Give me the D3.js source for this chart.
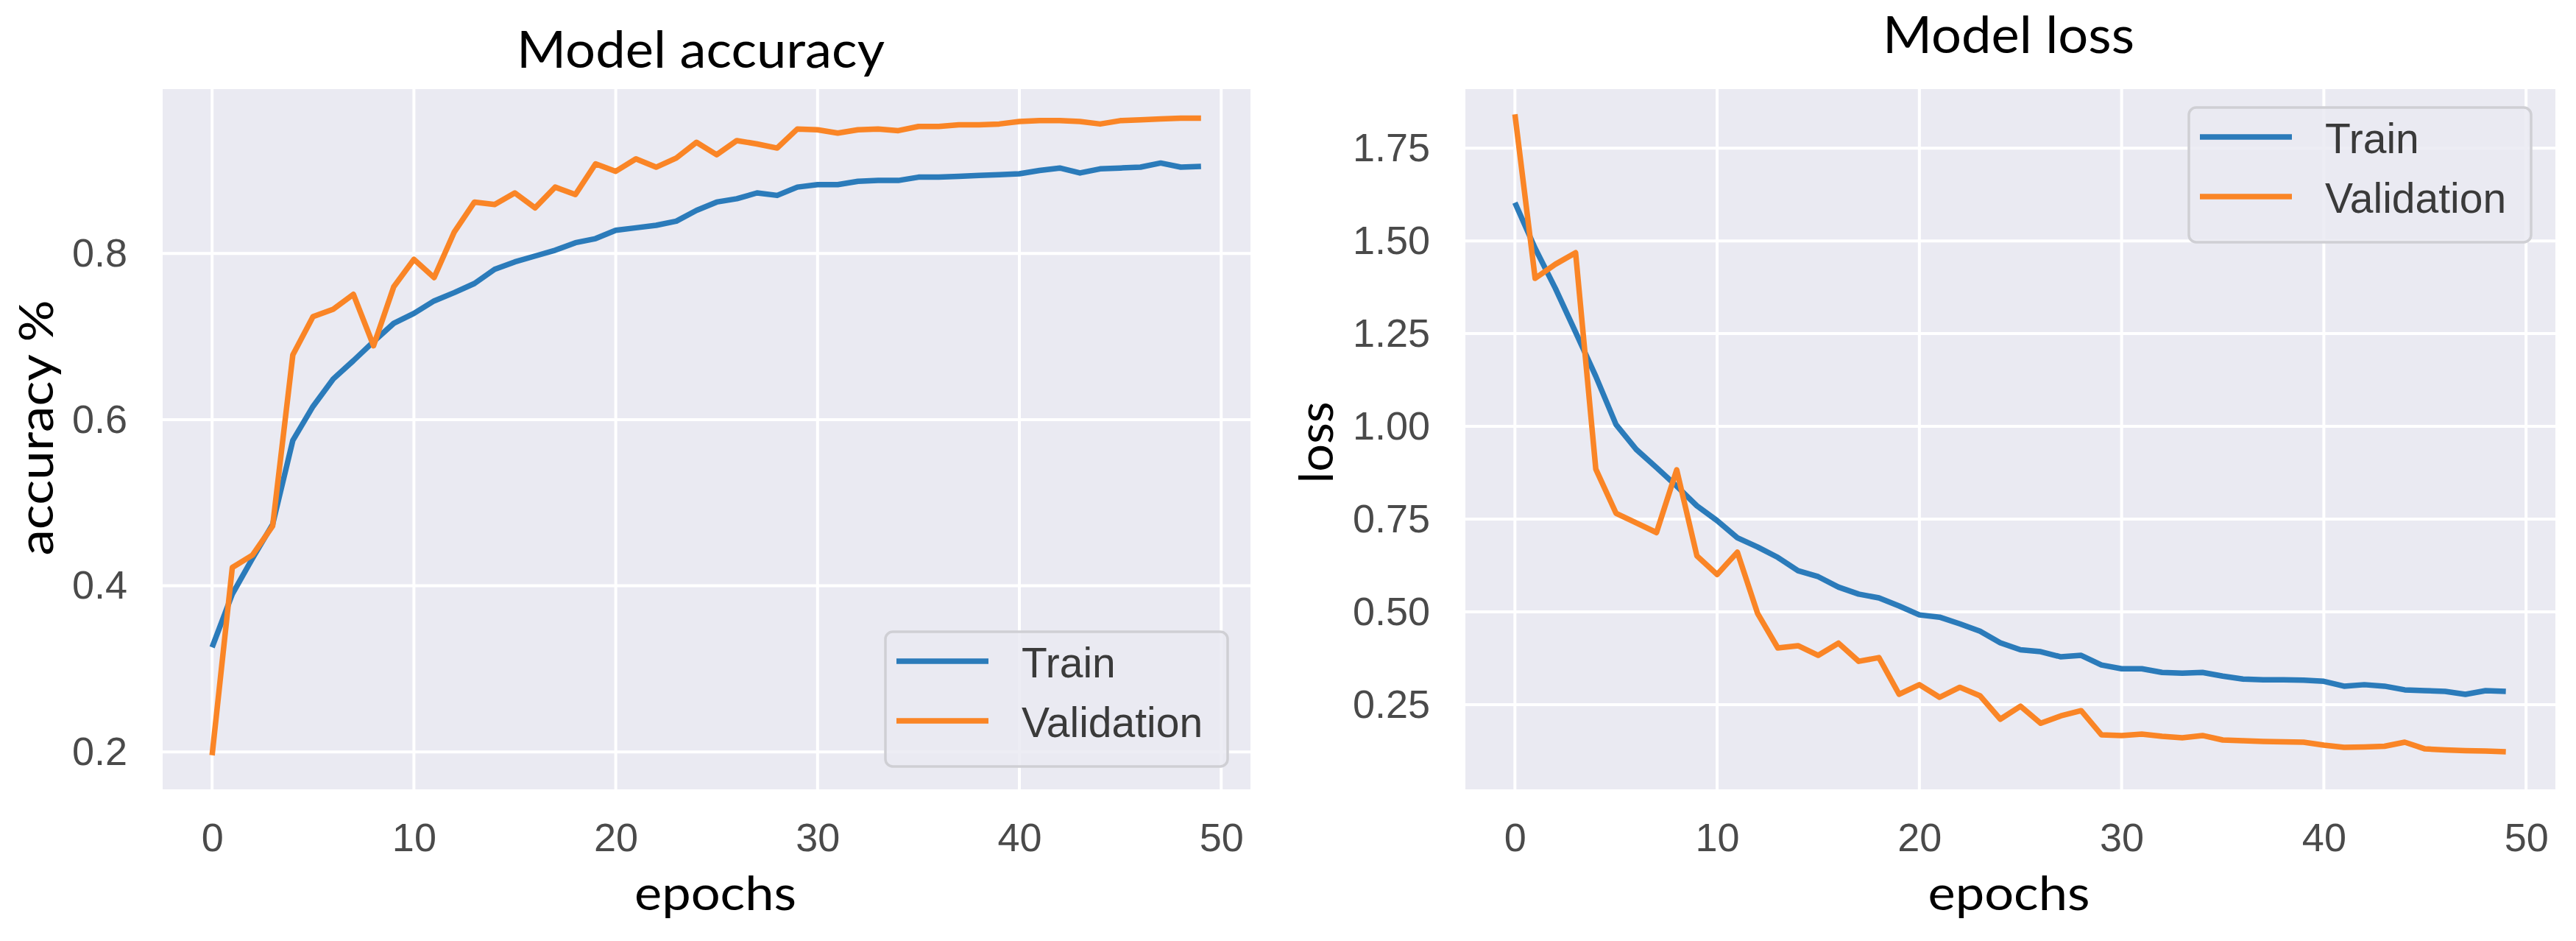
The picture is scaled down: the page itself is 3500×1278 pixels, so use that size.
<!DOCTYPE html>
<html>
<head>
<meta charset="utf-8">
<script src="https://cdn.jsdelivr.net/npm/d3@7"></script>
<style>
  html, body { margin: 0; padding: 0; background: #fff; }
  svg { display: block; }
</style>
</head>
<body>
<div id="chart"></div>
<script>
// epochs 0..49
const epochs = [0,1,2,3,4,5,6,7,8,9,10,11,12,13,14,15,16,17,18,19,
  20,21,22,23,24,25,26,27,28,29,30,31,32,33,34,35,36,37,38,39,
  40,41,42,43,44,45,46,47,48,49];

const trainAcc = [0.326,0.390,0.433,0.474,0.575,0.616,0.649,0.671,0.694,0.716,
  0.728,0.743,0.753,0.764,0.781,0.790,0.797,0.804,0.813,0.818,
  0.828,0.831,0.834,0.839,0.852,0.862,0.866,0.873,0.870,0.880,
  0.883,0.883,0.887,0.888,0.888,0.892,0.892,0.893,0.894,0.895,
  0.896,0.900,0.903,0.897,0.902,0.903,0.904,0.909,0.904,0.905];

const valAcc = [0.196,0.422,0.437,0.472,0.678,0.724,0.733,0.751,0.689,0.760,
  0.793,0.771,0.826,0.862,0.859,0.873,0.855,0.880,0.871,0.908,
  0.899,0.914,0.904,0.915,0.934,0.919,0.936,0.932,0.927,0.950,
  0.949,0.945,0.949,0.950,0.948,0.953,0.953,0.955,0.955,0.956,
  0.959,0.960,0.960,0.959,0.956,0.960,0.961,0.962,0.963,0.963];

const trainLoss = [1.603,1.480,1.372,1.254,1.135,1.005,0.938,0.889,0.839,0.786,
  0.746,0.700,0.675,0.647,0.611,0.595,0.567,0.548,0.538,0.516,
  0.492,0.486,0.468,0.448,0.417,0.398,0.393,0.379,0.383,0.357,
  0.347,0.347,0.337,0.335,0.337,0.327,0.319,0.317,0.317,0.316,
  0.313,0.300,0.304,0.300,0.290,0.288,0.286,0.278,0.288,0.286];

const valLoss = [1.841,1.399,1.437,1.468,0.885,0.766,0.740,0.714,0.883,0.651,
  0.601,0.661,0.496,0.403,0.409,0.383,0.416,0.367,0.377,0.278,
  0.304,0.270,0.297,0.274,0.211,0.246,0.200,0.220,0.234,0.169,
  0.167,0.171,0.165,0.161,0.167,0.155,0.153,0.151,0.150,0.149,
  0.141,0.135,0.136,0.138,0.149,0.131,0.128,0.126,0.125,0.123];

const xTicks = [0, 10, 20, 30, 40, 50];
const accTicks = [0.2, 0.4, 0.6, 0.8];
const lossTicks = [0.25, 0.50, 0.75, 1.00, 1.25, 1.50, 1.75];
const seriesNames = ["Train", "Validation"];
const seriesColors = ["#2b7bba", "#fa8526"];

const width = 3500;
const height = 1278;

const svg = d3.select("#chart")
  .append("svg")
  .attr("width", width)
  .attr("height", height);

svg.append("rect")
  .attr("width", width)
  .attr("height", height)
  .attr("fill", "#ffffff");

const drawPanel = (cfg) => {
  const g = svg.append("g");

  const x = d3.scaleLinear()
    .domain([-2.45, 51.45])
    .range([cfg.left, cfg.right]);

  const y = d3.scaleLinear()
    .domain(cfg.yDomain)
    .range([cfg.bottom, cfg.top]);

  // seaborn darkgrid background
  g.append("rect")
    .attr("x", cfg.left)
    .attr("y", cfg.top)
    .attr("width", cfg.right - cfg.left)
    .attr("height", cfg.bottom - cfg.top)
    .attr("fill", "#eaeaf2");

  // grid lines
  g.selectAll(".vgrid")
    .data(xTicks)
    .enter()
    .append("line")
    .attr("x1", d => x(d))
    .attr("x2", d => x(d))
    .attr("y1", cfg.top)
    .attr("y2", cfg.bottom)
    .attr("stroke", "#ffffff")
    .attr("stroke-width", 4);

  g.selectAll(".hgrid")
    .data(cfg.yTicks)
    .enter()
    .append("line")
    .attr("x1", cfg.left)
    .attr("x2", cfg.right)
    .attr("y1", d => y(d))
    .attr("y2", d => y(d))
    .attr("stroke", "#ffffff")
    .attr("stroke-width", 4);

  // axes (no spines, no tick marks)
  const xAxis = g.append("g")
    .attr("transform", `translate(0,${cfg.bottom})`)
    .call(d3.axisBottom(x).tickValues(xTicks).tickSize(0).tickPadding(46).tickFormat(d3.format("d")));

  const yAxis = g.append("g")
    .attr("transform", `translate(${cfg.left},0)`)
    .call(d3.axisLeft(y).tickValues(cfg.yTicks).tickSize(0).tickPadding(48).tickFormat(d3.format(cfg.yFormat)));

  [xAxis, yAxis].forEach(a => {
    a.select(".domain").remove();
    a.selectAll("text")
      .attr("font-family", "'Liberation Sans', Arial, sans-serif")
      .attr("font-size", 54)
      .attr("fill", "#4a4a4a");
  });

  // lines
  const line = d3.line()
    .x((d, i) => x(epochs[i]))
    .y(d => y(d));

  cfg.series.forEach((s, k) => {
    g.append("path")
      .datum(s)
      .attr("fill", "none")
      .attr("stroke", seriesColors[k])
      .attr("stroke-width", 7.5)
      .attr("stroke-linejoin", "round")
      .attr("d", line);
  });

  // legend
  const lg = g.append("g");
  lg.append("rect")
    .attr("x", cfg.legend.x)
    .attr("y", cfg.legend.y)
    .attr("width", cfg.legend.w)
    .attr("height", cfg.legend.h)
    .attr("rx", 10)
    .attr("fill", "#eaeaf2")
    .attr("fill-opacity", 0.85)
    .attr("stroke", "#cfcfd4")
    .attr("stroke-width", 3.5);

  seriesNames.forEach((name, k) => {
    const ly = cfg.legend.y + 40 + k * 81;
    lg.append("line")
      .attr("x1", cfg.legend.x + 15)
      .attr("x2", cfg.legend.x + 140)
      .attr("y1", ly)
      .attr("y2", ly)
      .attr("stroke", seriesColors[k])
      .attr("stroke-width", 7.5);
    lg.append("text")
      .attr("x", cfg.legend.x + 185)
      .attr("y", ly + 22)
      .attr("font-family", "'Liberation Sans', Arial, sans-serif")
      .attr("font-size", 57)
      .attr("fill", "#3a3a3a")
      .text(name);
  });

  // titles and axis labels
  g.append("text")
    .attr("x", cfg.titleX)
    .attr("y", cfg.titleY)
    .attr("text-anchor", "middle")
    .attr("font-family", "Lato, 'Open Sans', sans-serif")
    .attr("font-size", 70)
    .attr("fill", "#000")
    .attr("textLength", cfg.titleLen)
    .attr("lengthAdjust", "spacingAndGlyphs")
    .text(cfg.title);

  g.append("text")
    .attr("x", (cfg.left + cfg.right) / 2 + cfg.xLabelShift)
    .attr("y", 1236)
    .attr("text-anchor", "middle")
    .attr("font-family", "Lato, 'Open Sans', sans-serif")
    .attr("font-size", 64)
    .attr("fill", "#000")
    .attr("textLength", 220)
    .attr("lengthAdjust", "spacingAndGlyphs")
    .text("epochs");

  g.append("text")
    .attr("transform", `translate(${cfg.yLabelX},${cfg.yLabelY}) rotate(-90)`)
    .attr("text-anchor", "middle")
    .attr("font-family", "Lato, 'Open Sans', sans-serif")
    .attr("font-size", 64)
    .attr("fill", "#000")
    .attr("textLength", cfg.yLabelLen)
    .attr("lengthAdjust", "spacingAndGlyphs")
    .text(cfg.ylabel);
};

drawPanel({
  left: 221, right: 1699, top: 121, bottom: 1072,
  yDomain: [0.155, 0.998],
  yTicks: accTicks,
  yFormat: ".1f",
  series: [trainAcc, valAcc],
  title: "Model accuracy", titleX: 952, titleY: 92, titleLen: 500,
  xLabelShift: 12,
  ylabel: "accuracy %", yLabelX: 72, yLabelY: 581, yLabelLen: 347,
  legend: { x: 1203, y: 858, w: 465, h: 183 }
});

drawPanel({
  left: 1991, right: 3472, top: 121, bottom: 1072,
  yDomain: [0.022, 1.909],
  yTicks: lossTicks,
  yFormat: ".2f",
  series: [trainLoss, valLoss],
  title: "Model loss", titleX: 2729, titleY: 72, titleLen: 342,
  xLabelShift: -2,
  ylabel: "loss", yLabelX: 1811, yLabelY: 601, yLabelLen: 111,
  legend: { x: 2974, y: 146, w: 465, h: 183 }
});
</script>
</body>
</html>
